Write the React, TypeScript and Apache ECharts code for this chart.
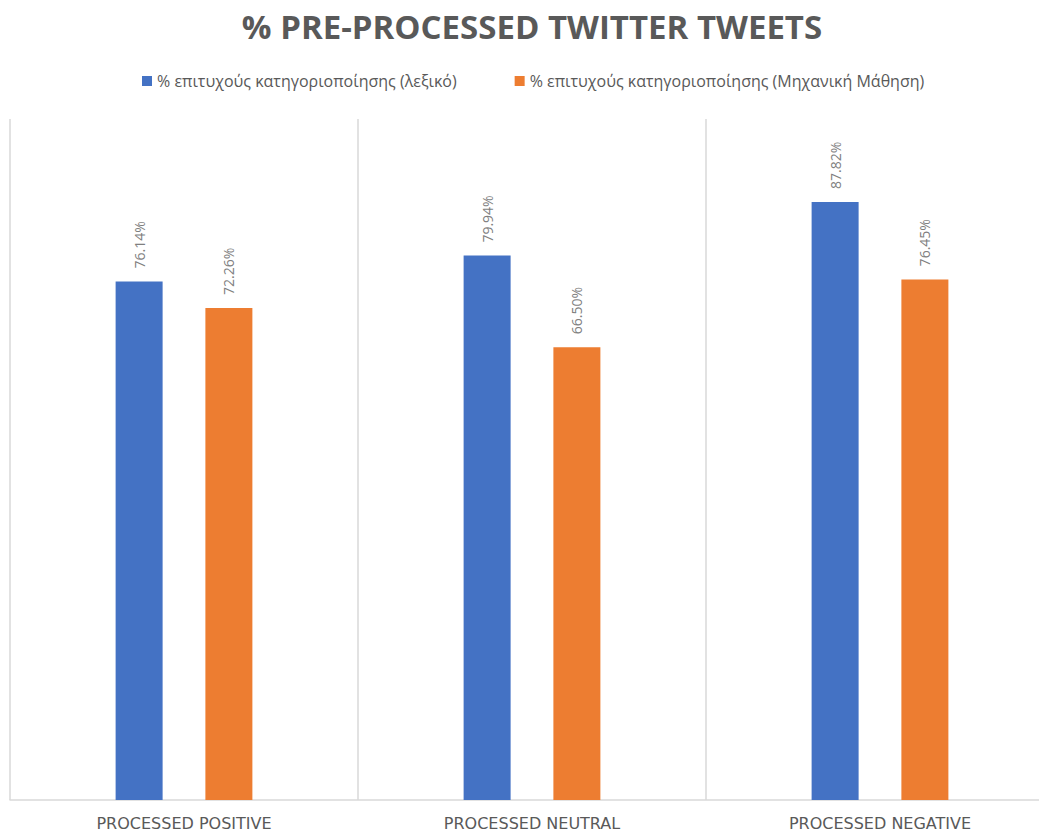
import React, { useEffect, useRef } from "react";
import * as echarts from "echarts";

const categories = ["PROCESSED POSITIVE", "PROCESSED NEUTRAL", "PROCESSED NEGATIVE"];
const seriesNames = [
  "% επιτυχούς κατηγοριοποίησης (λεξικό)",
  "% επιτυχούς κατηγοριοποίησης (Μηχανική Μάθηση)",
];
const lexiconValues = [76.14, 79.94, 87.82];
const mlValues = [72.26, 66.5, 76.45];
const colors = ["#4472C4", "#ED7D31"];

export default function App() {
  const ref = useRef<HTMLDivElement>(null);
  useEffect(() => {
    document.body.style.margin = "0";
    document.body.style.overflow = "hidden";
    const chart = echarts.init(ref.current!, null, { renderer: "svg" });
    const label = {
      show: true,
      position: "top",
      rotate: 90,
      align: "left",
      verticalAlign: "middle",
      distance: 13,
      color: "#7f7f7f",
      fontSize: 14,
      fontFamily: "Open Sans",
      formatter: (p: any) => p.value.toFixed(2) + "%",
    };
    chart.setOption({
      animation: false,
      title: {
        text: "% PRE-PROCESSED TWITTER TWEETS",
        left: 527,
        textAlign: "center",
        top: 5,
        textStyle: { fontFamily: "Open Sans", fontWeight: "bold", fontSize: 33, color: "#595959" },
      },
      legend: {
        top: 68,
        left: 137,
        itemWidth: 10,
        itemHeight: 10,
        itemGap: 58,
        icon: "rect",
        textStyle: { fontFamily: "Open Sans", fontSize: 16, color: "#595959" },
        data: seriesNames,
      },
      grid: { left: 10, right: 46, top: 119, bottom: 29, containLabel: false },
      xAxis: {
        type: "category",
        data: categories,
        axisLine: { show: true, lineStyle: { color: "#d9d9d9", width: 1.5 } },
        axisTick: { show: false },
        splitLine: { show: true, lineStyle: { color: "#d9d9d9", width: 1.5 } },
        axisLabel: {
          margin: 15,
          fontFamily: "DejaVu Sans",
          fontSize: 16,
          color: "#595959",
        },
      },
      yAxis: {
        type: "value",
        min: 0,
        max: 100,
        show: false,
        splitLine: { show: false },
      },
      series: [
        {
          name: seriesNames[0],
          type: "bar",
          data: lexiconValues,
          itemStyle: { color: colors[0] },
          barWidth: 47,
          barGap: "91%",
          label,
        },
        {
          name: seriesNames[1],
          type: "bar",
          data: mlValues,
          itemStyle: { color: colors[1] },
          barWidth: 47,
          barGap: "91%",
          label,
        },
      ],
    });
    return () => chart.dispose();
  }, []);
  return <div ref={ref} style={{ width: 1100, height: 831 }} />;
}
